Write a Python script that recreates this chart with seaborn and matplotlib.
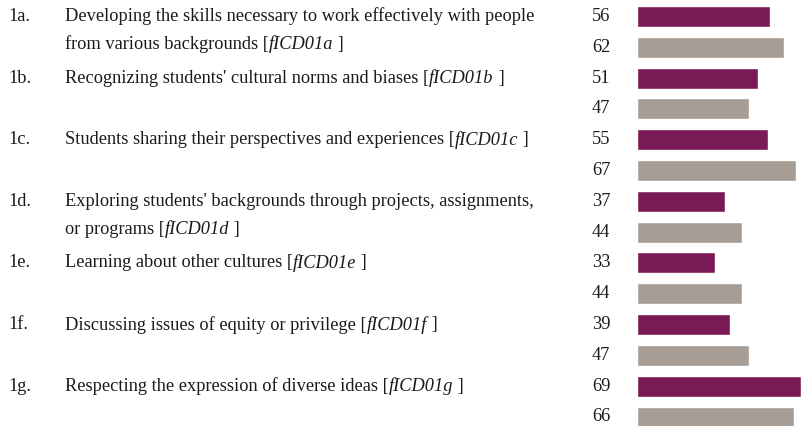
import matplotlib
matplotlib.use("Agg")
import matplotlib.pyplot as plt
import matplotlib.transforms as mtransforms
import seaborn as sns
import pandas as pd

sns.set_theme(style="white")
plt.rcParams['font.family'] = ['Liberation Serif', 'DejaVu Serif']

# ---- data ----
item_ids = ["1a.", "1b.", "1c.", "1d.", "1e.", "1f.", "1g."]
item_lines = [
    ["Developing the skills necessary to work effectively with people",
     "from various backgrounds ["],
    ["Recognizing students' cultural norms and biases ["],
    ["Students sharing their perspectives and experiences ["],
    ["Exploring students' backgrounds through projects, assignments,",
     "or programs ["],
    ["Learning about other cultures ["],
    ["Discussing issues of equity or privilege ["],
    ["Respecting the expression of diverse ideas ["],
]
item_codes = ["fICD01a", "fICD01b", "fICD01c", "fICD01d", "fICD01e", "fICD01f", "fICD01g"]
values_a = [56, 51, 55, 37, 33, 39, 69]
values_b = [62, 47, 67, 44, 44, 47, 66]

rows = []
for i, iid in enumerate(item_ids):
    rows.append({"row": iid + "A", "group": "A", "value": values_a[i]})
    rows.append({"row": iid + "B", "group": "B", "value": values_b[i]})
df = pd.DataFrame(rows)

W, H = 806, 426
fig = plt.figure(figsize=(W / 100, H / 100), dpi=100)
ax = fig.add_axes([637 / W, 0, (W - 637) / W, 1])

sns.barplot(data=df, x="value", y="row", hue="group", orient="h", dodge=False,
            palette={"A": "#7A1A54", "B": "#A89D94"}, width=0.68,
            legend=False, ax=ax, saturation=1)
px_per_unit = 2.376
row_px = 30.8
ax.set_xlim(0, (W - 637) / px_per_unit)
ax.set_ylim(len(df) - 1 + (H - 417) / row_px, -16.5 / row_px)
ax.axis("off")

fs = 13.2
txt_color = "#1a1a1a"
trans = mtransforms.blended_transform_factory(fig.transFigure, ax.transData)
for j, v in enumerate(df["value"]):
    ax.text(592 / W, j, str(v), transform=trans, ha="left", va="center",
            fontsize=fs, color=txt_color)

fig.canvas.draw()
renderer = fig.canvas.get_renderer()


def rich_line(x, y, parts):
    for s, style in parts:
        t = ax.text(x, y, s, transform=trans, ha="left", va="center",
                    fontsize=fs, style=style, color=txt_color)
        x += t.get_window_extent(renderer).width / W


for i, iid in enumerate(item_ids):
    y0 = 2 * i
    ax.text(8 / W, y0, iid, transform=trans, ha="left", va="center",
            fontsize=fs, color=txt_color)
    lines = item_lines[i]
    for k, line in enumerate(lines):
        y = y0 + k * 0.9
        if k == len(lines) - 1:
            rich_line(65 / W, y, [(line, "normal"), (item_codes[i], "italic"), (" ]", "normal")])
        else:
            rich_line(65 / W, y, [(line, "normal")])

fig.savefig("out.png", dpi=100)
